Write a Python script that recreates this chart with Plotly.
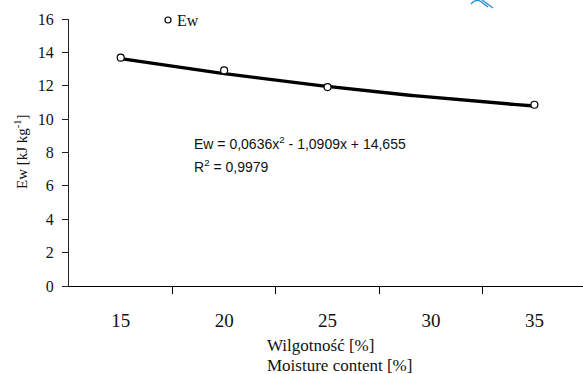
import numpy as np
import plotly.graph_objects as go

# ---- data ----
categories = ["15", "20", "25", "30", "35"]          # moisture content [%]
cat_index = [1, 2, 3, 4, 5]
ew_values = [13.68, 12.92, 11.92, None, 10.86]        # Ew [kJ kg-1]
trend_coef = [0.0636, -1.0909, 14.655]                # Ew = a x^2 + b x + c (x = category index)
y_ticks = [0, 2, 4, 6, 8, 10, 12, 14, 16]

# ---- geometry helpers (pixel -> paper) ----
W, H = 583, 374
L, R, T, B = 69, 0, 19, 88
pw, ph = W - L - R, H - T - B
def px(x):
    return (x - L) / pw
def py(y):
    return (H - B - y) / ph

serif = "Liberation Serif, Times New Roman, serif"
sans = "Liberation Sans, Arial, sans-serif"

fig = go.Figure()

# trendline from the published polynomial
xt = np.linspace(1, 5, 200)
yt = np.polyval(trend_coef, xt)
fig.add_trace(go.Scatter(x=xt, y=yt, mode="lines",
                         line=dict(color="black", width=3.4),
                         showlegend=False, hoverinfo="skip"))

pts_x = [c for c, v in zip(cat_index, ew_values) if v is not None]
pts_y = [v for v in ew_values if v is not None]
fig.add_trace(go.Scatter(x=pts_x, y=pts_y, mode="markers", name="Ew",
                         marker=dict(symbol="circle", size=7, color="white",
                                     line=dict(color="black", width=1.2)),
                         showlegend=False))

fig.update_layout(
    width=W, height=H,
    margin=dict(l=L, r=R, t=T, b=B),
    paper_bgcolor="white", plot_bgcolor="white",
    xaxis=dict(range=[0.5, 5.47], tickmode="array", tickvals=cat_index,
               ticktext=categories, ticks="", showgrid=False, zeroline=False,
               showline=True, linecolor="black", linewidth=1.3,
               tickfont=dict(family=serif, size=19, color="#111"),
               ticklabelstandoff=17,
               minor=dict(tickmode="array", tickvals=[1.5, 2.5, 3.5, 4.5],
                          ticks="outside", ticklen=7, tickwidth=1.3,
                          tickcolor="black", showgrid=False)),
    yaxis=dict(range=[0, 16], tickmode="array", tickvals=y_ticks,
               ticks="outside", ticklen=6, tickwidth=1.3, tickcolor="#222",
               showgrid=False, zeroline=False, showline=True,
               linecolor="#222", linewidth=1.3,
               tickfont=dict(family=serif, size=16, color="#111"),
               ticklabelstandoff=5),
)

# axis titles
fig.add_annotation(xref="paper", yref="paper", x=px(265), y=py(345),
                   text="Wilgotność [%]", showarrow=False, xanchor="left",
                   yanchor="middle", font=dict(family=serif, size=17, color="#111"))
fig.add_annotation(xref="paper", yref="paper", x=px(265), y=py(365),
                   text="Moisture content [%]", showarrow=False, xanchor="left",
                   yanchor="middle", font=dict(family=serif, size=17, color="#111"))
fig.add_annotation(xref="paper", yref="paper", x=px(21), y=py(152),
                   text="Ew [kJ kg<sup>-1</sup>]", showarrow=False, textangle=-90,
                   xanchor="center", yanchor="middle",
                   font=dict(family=serif, size=15, color="#111"))

# equation
fig.add_annotation(xref="paper", yref="paper", x=px(192), y=py(143),
                   text="Ew = 0,0636x<sup>2</sup> - 1,0909x + 14,655", showarrow=False,
                   xanchor="left", yanchor="middle",
                   font=dict(family=sans, size=14, color="#111"))
fig.add_annotation(xref="paper", yref="paper", x=px(192), y=py(166),
                   text="R<sup>2</sup> = 0,9979", showarrow=False,
                   xanchor="left", yanchor="middle",
                   font=dict(family=sans, size=14, color="#111"))

# legend (manual)
fig.add_shape(type="circle", xref="paper", yref="paper",
              x0=px(165), x1=px(171), y0=py(23), y1=py(17),
              line=dict(color="black", width=1.2), fillcolor="white")
fig.add_annotation(xref="paper", yref="paper", x=px(175), y=py(20),
                   text="Ew", showarrow=False, xanchor="left", yanchor="middle",
                   font=dict(family=serif, size=16, color="#111"))

# small stray blue pen mark in the top-right corner of the scan
fig.add_shape(type="path", xref="paper", yref="paper",
              path=f"M {px(471)} {py(4)} Q {px(475)} {py(-1)} {px(480)} {py(1)} L {px(488)} {py(7)}",
              line=dict(color="#1a8fd0", width=1.3))
fig.add_shape(type="path", xref="paper", yref="paper",
              path=f"M {px(482)} {py(0)} L {px(493)} {py(8)}",
              line=dict(color="#1a8fd0", width=1.3))

fig.write_html("out.html", config={"displayModeBar": False},
               post_script="document.body.style.margin='0';document.body.style.overflow='hidden';")
